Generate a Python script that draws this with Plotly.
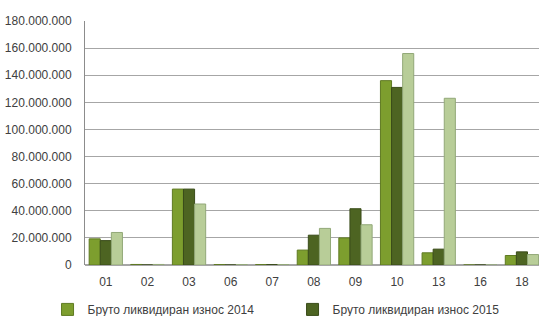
import plotly.graph_objects as go

categories = ["01", "02", "03", "06", "07", "08", "09", "10", "13", "16", "18"]
values_2014 = [19.3e6, 0.4e6, 56e6, 0.3e6, 0.3e6, 11e6, 20e6, 136e6, 9e6, 0, 7e6]
values_2015 = [18e6, 0, 56e6, 0, 0.3e6, 22e6, 41.5e6, 131e6, 11.7e6, 0, 9.7e6]
values_2016 = [24e6, 0.4e6, 45e6, 0.3e6, 0.3e6, 27e6, 29.7e6, 156e6, 123e6, 0, 7.7e6]
series_names = ["Бруто ликвидиран износ 2014", "Бруто ликвидиран износ 2015", "Бруто ликвидиран износ 2016"]
y_tick_vals = [0, 20e6, 40e6, 60e6, 80e6, 100e6, 120e6, 140e6, 160e6, 180e6]
y_tick_text = ["0", "20.000.000", "40.000.000", "60.000.000", "80.000.000", "100.000.000",
               "120.000.000", "140.000.000", "160.000.000", "180.000.000"]

colors = ["#7d9e2e", "#4d6422", "#b8cd98"]
lines = ["#5f7a22", "#3a4c1a", "#92a878"]

fig = go.Figure()
for name, vals, c, lc, show in zip(series_names, [values_2014, values_2015, values_2016],
                                   colors, lines, [True, True, False]):
    fig.add_trace(go.Bar(x=categories, y=vals, name=name, marker_color=c,
                         marker_line_color=lc, marker_line_width=1, showlegend=show))

fig.update_layout(
    width=539, height=316,
    margin=dict(l=85, r=0, t=21, b=51, autoexpand=False),
    paper_bgcolor="white", plot_bgcolor="white",
    barmode="group", bargap=0.2, bargroupgap=0,
    font=dict(family="Liberation Sans, Arial, sans-serif", size=12, color="#404040"),
    xaxis=dict(type="category", range=[-0.5, 10.41], showgrid=False, ticks="",
               showline=False, tickfont=dict(size=12), automargin=False,
               ticklabelstandoff=8),
    yaxis=dict(range=[0, 180e6], tickvals=y_tick_vals, ticktext=y_tick_text,
               showgrid=True, gridcolor="#a6a6a6", gridwidth=1, showline=True,
               linecolor="#8c8c8c", linewidth=1, zeroline=True, zerolinecolor="#a6a6a6",
               ticks="", ticklabelstandoff=10, tickfont=dict(size=12), automargin=False),
    legend=dict(orientation="h", x=-0.0825, xanchor="left", y=-0.182, yanchor="middle",
                entrywidth=200, entrywidthmode="pixels", font=dict(size=12),
                itemwidth=30, tracegroupgap=0),
)

fig.write_html("out.html", config={"displayModeBar": False},
               post_script="document.body.style.margin='0';")
